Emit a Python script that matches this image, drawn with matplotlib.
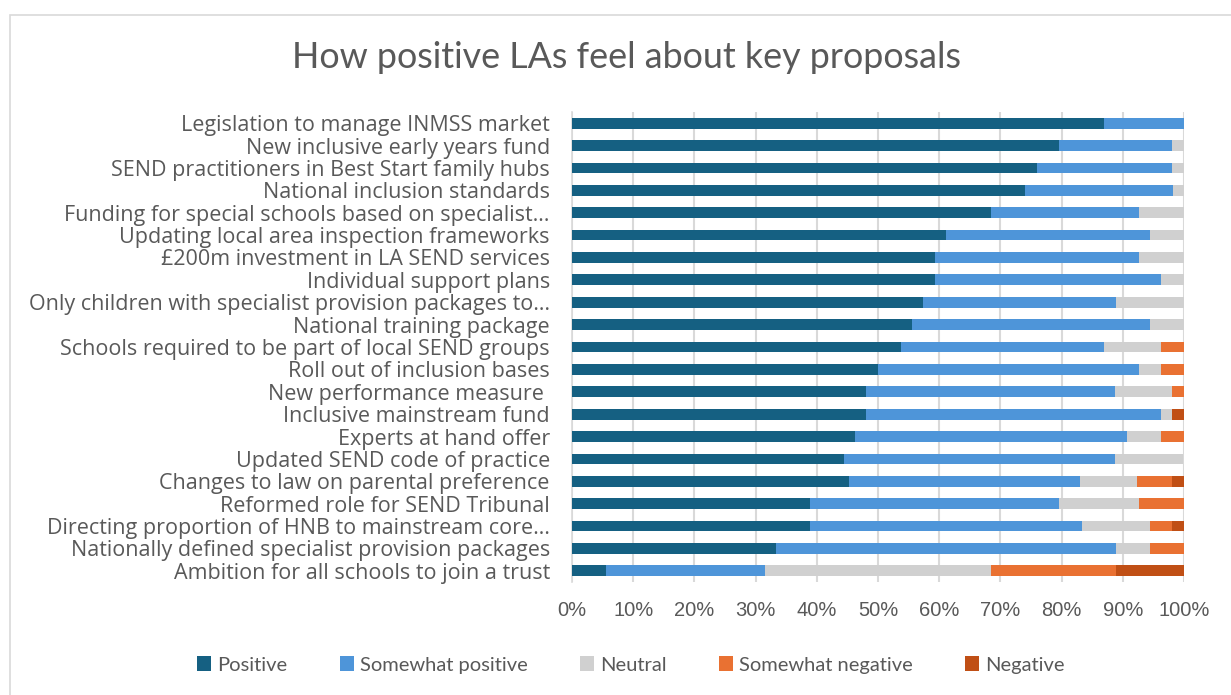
import numpy as np
import matplotlib.pyplot as plt
from matplotlib.patches import Rectangle

# -------- DATA (share of LAs, %) --------
proposals = [
    "Legislation to manage INMSS market",
    "New inclusive early years fund",
    "SEND practitioners in Best Start family hubs",
    "National inclusion standards",
    "Funding for special schools based on specialist\u2026",
    "Updating local area inspection frameworks",
    "\u00a3200m investment in LA SEND services",
    "Individual support plans",
    "Only children with specialist provision packages to\u2026",
    "National training package",
    "Schools required to be part of local SEND groups",
    "Roll out of inclusion bases",
    "New performance measure ",
    "Inclusive mainstream fund",
    "Experts at hand offer",
    "Updated SEND code of practice",
    "Changes to law on parental preference",
    "Reformed role for SEND Tribunal",
    "Directing proportion of HNB to mainstream core\u2026",
    "Nationally defined specialist provision packages",
    "Ambition for all schools to join a trust",
]

positive = [87.0, 79.6, 75.9, 74.1, 68.5, 61.1, 59.3, 59.3, 57.4, 55.6, 53.7,
            50.0, 48.1, 48.1, 46.3, 44.4, 45.3, 38.9, 38.9, 33.3, 5.6]
somewhat_positive = [13.0, 18.5, 22.2, 24.1, 24.1, 33.3, 33.3, 37.0, 31.5, 38.9, 33.3,
                     42.6, 40.7, 48.1, 44.4, 44.4, 37.7, 40.7, 44.4, 55.6, 25.9]
neutral = [0.0, 1.9, 1.9, 1.9, 7.4, 5.6, 7.4, 3.7, 11.1, 5.6, 9.3,
           3.7, 9.3, 1.9, 5.6, 11.1, 9.4, 13.0, 11.1, 5.6, 37.0]
somewhat_negative = [0.0, 0.0, 0.0, 0.0, 0.0, 0.0, 0.0, 0.0, 0.0, 0.0, 3.7,
                     3.7, 1.9, 0.0, 3.7, 0.0, 5.7, 7.4, 3.7, 5.6, 20.4]
negative = [0.0, 0.0, 0.0, 0.0, 0.0, 0.0, 0.0, 0.0, 0.0, 0.0, 0.0,
            0.0, 0.0, 1.9, 0.0, 0.0, 1.9, 0.0, 1.9, 0.0, 11.1]

series = [
    ("Positive", positive, "#156082"),
    ("Somewhat positive", somewhat_positive, "#4E95D9"),
    ("Neutral", neutral, "#D0D0D0"),
    ("Somewhat negative", somewhat_negative, "#E97132"),
    ("Negative", negative, "#C04F15"),
]

grey = "#595959"
W, H = 1231, 695

fig = plt.figure(figsize=(W / 100, H / 100), dpi=100)

# chart border (cropped at right/bottom like the screenshot)
fig.patches.append(Rectangle((10 / W, -0.1), 1.2, 1 - 15 / H + 0.1,
                             transform=fig.transFigure, fill=False,
                             edgecolor="#D9D9D9", linewidth=1.2))

ax = fig.add_axes([572 / W, 1 - 582 / H, (1184 - 572) / W, (582 - 112) / H])

y = np.arange(len(proposals))
left = np.zeros(len(proposals))
for name, vals, col in series:
    vals = np.array(vals)
    ax.barh(y, vals, left=left, height=0.48, color=col, label=name, zorder=3)
    left += vals

ax.set_xlim(0, 100)
ax.set_ylim(len(proposals) - 0.5, -0.5)
ax.set_xticks(np.arange(0, 101, 10))
ax.set_xticklabels([f"{v}%" for v in range(0, 101, 10)])
ax.set_yticks(y)
ax.set_yticklabels(proposals, fontfamily="Open Sans", fontsize=15.5, color=grey)
ax.tick_params(axis="x", length=0, pad=14, labelsize=14.5, labelcolor=grey)
ax.tick_params(axis="y", length=0, pad=16)
for lab in ax.get_xticklabels():
    lab.set_fontfamily("Liberation Sans")
ax.grid(axis="x", color="#D9D9D9", linewidth=1.5, zorder=0)
for s in ["top", "right", "bottom"]:
    ax.spines[s].set_visible(False)
ax.spines["left"].set_color("#D9D9D9")
ax.spines["left"].set_linewidth(1.2)

fig.text(626 / W, 1 - 58 / H, "How positive LAs feel about key proposals",
         ha="center", va="center", fontsize=25.8, color=grey, fontfamily="Lato")

fig.legend(loc="center", bbox_to_anchor=(631 / W, 1 - 665 / H), ncol=5,
           frameon=False, handlelength=0.7, handleheight=0.7, handletextpad=0.3,
           columnspacing=2.6,
           prop={"family": "Lato", "size": 14.5},
           labelcolor=grey)

fig.savefig("out.png", dpi=100)
